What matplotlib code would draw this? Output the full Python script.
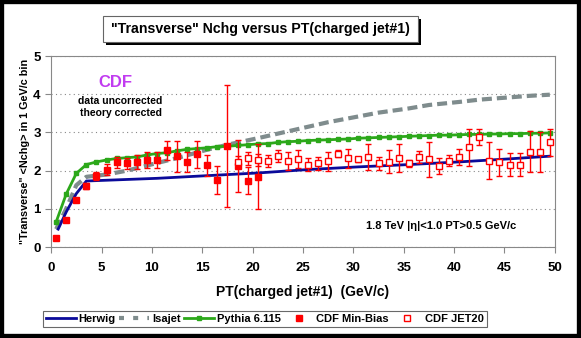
import numpy as np
import matplotlib.pyplot as plt
from matplotlib.patches import Rectangle
from matplotlib.lines import Line2D

plt.rcParams['font.family'] = ['Liberation Sans', 'DejaVu Sans']
plt.rcParams['font.weight'] = 'bold'

# --- CDF Min-Bias (filled squares) ---
mb_x = [0.5, 1.5, 2.5, 3.5, 4.5, 5.5, 6.5, 7.5, 8.5, 9.5, 10.5, 11.5, 12.5, 13.5,
        14.5, 15.5, 16.5, 17.5, 18.5, 19.5, 20.5]
mb_y = [0.25, 0.71, 1.23, 1.60, 1.86, 2.03, 2.22, 2.19, 2.22, 2.28, 2.28, 2.53, 2.38,
        2.22, 2.43, 2.14, 1.75, 2.64, 2.13, 1.74, 1.84]
mb_err = [0.0, 0.0, 0.0, 0.08, 0.10, 0.14, 0.15, 0.15, 0.18, 0.20, 0.20, 0.24, 0.41,
          0.26, 0.36, 0.27, 0.37, 1.60, 0.68, 0.35, 0.85]

# --- CDF JET20 (open squares) ---
j20_x = [18.5, 19.5, 20.5, 21.5, 22.5, 23.5, 24.5, 25.5, 26.5, 27.5, 28.5, 29.5,
         30.5, 31.5, 32.5, 33.5, 34.5, 35.5, 36.5, 37.5, 38.5, 39.5, 40.5, 41.5,
         42.5, 43.5, 44.5, 45.5, 46.5, 47.5, 48.5, 49.5]
j20_y = [2.23, 2.32, 2.28, 2.25, 2.38, 2.26, 2.30, 2.15, 2.19, 2.25, 2.45, 2.32,
         2.30, 2.36, 2.19, 2.23, 2.34, 2.19, 2.36, 2.30, 2.13, 2.26, 2.37, 2.61,
         2.89, 2.26, 2.22, 2.16, 2.16, 2.50, 2.49, 2.74]
j20_err = [0.15, 0.17, 0.17, 0.16, 0.15, 0.24, 0.24, 0.17, 0.18, 0.25, 0.10, 0.24,
           0.07, 0.33, 0.17, 0.30, 0.37, 0.10, 0.16, 0.46, 0.21, 0.15, 0.21, 0.48,
           0.21, 0.49, 0.35, 0.30, 0.31, 0.53, 0.52, 0.35]

# --- Pythia 6.115 ---
py_x = [0.5 + i for i in range(50)]
py_y = [0.66, 1.39, 1.93, 2.16, 2.23, 2.28, 2.32, 2.34, 2.36, 2.41, 2.45, 2.47, 2.52,
        2.56, 2.58, 2.60, 2.63, 2.64, 2.66, 2.68, 2.70, 2.71, 2.74, 2.76, 2.77, 2.79,
        2.80, 2.81, 2.82, 2.83, 2.85, 2.86, 2.87, 2.88, 2.89, 2.90, 2.91, 2.92, 2.93,
        2.93, 2.94, 2.95, 2.95, 2.96, 2.96, 2.97, 2.97, 2.98, 2.98, 2.99]

# --- Herwig ---
hw_x = [0.7, 1.5, 2.5, 3.5, 5.5, 10.5, 15.5, 20.5, 25.5, 30.5, 35.5, 40.5, 45.5, 49.5]
hw_y = [0.47, 0.92, 1.40, 1.73, 1.75, 1.80, 1.87, 1.94, 2.03, 2.10, 2.16, 2.23, 2.31, 2.38]

# --- Isajet ---
isa_x = [0.5, 1.5, 2.5, 3.5, 4.5, 5.5, 7.5, 10.5, 12.5, 15.5, 17.5, 20.5, 22.5, 25.5,
         27.5, 30.5, 32.5, 35.5, 37.5, 40.5, 42.5, 45.5, 47.5, 49.5]
isa_y = [0.47, 1.01, 1.62, 1.84, 1.87, 1.90, 2.00, 2.20, 2.33, 2.55, 2.68, 2.85, 2.97,
         3.15, 3.27, 3.42, 3.52, 3.63, 3.72, 3.80, 3.86, 3.92, 3.96, 3.99]

BLUE = "#0a0a9a"
GREEN = "#2ca81a"
GREY = "#7f8c8d"
RED = "#ff0000"

fig = plt.figure(figsize=(5.81, 3.38), dpi=100)
ax = fig.add_axes([0.088, 0.269, 0.867, 0.565])

ax.plot(isa_x, isa_y, color=GREY, lw=3, dashes=(2.4, 1.2), zorder=2)
ax.plot(hw_x, hw_y, "-", color=BLUE, lw=2, zorder=3)
ax.plot(py_x, py_y, "-", color=GREEN, lw=2, marker="s", ms=3.3, zorder=4)

ax.errorbar(mb_x, mb_y, yerr=mb_err, fmt="s", color=RED, ms=5, ecolor=RED,
            elinewidth=1, capsize=2.5, capthick=1, zorder=5)
ax.errorbar(j20_x, j20_y, yerr=j20_err, fmt="s", mfc="white", mec=RED, mew=1,
            ms=5, ecolor=RED, elinewidth=1, capsize=2.5, capthick=1, zorder=5)

ax.set_xlim(0, 50)
ax.set_ylim(0, 5)
ax.set_xticks(range(0, 51, 5))
ax.set_yticks(range(0, 6))
ax.yaxis.grid(True, ls=(0, (1, 3)), color="#888888", lw=0.8)
ax.tick_params(labelsize=9.5, length=4, width=0.8, color="#888888")
ax.tick_params(axis="x", pad=7)
for lbl in ax.get_xticklabels() + ax.get_yticklabels():
    lbl.set_fontweight("bold")
for sp in ax.spines.values():
    sp.set_color("#888888")
    sp.set_linewidth(0.8)

ax.set_xlabel("PT(charged jet#1)  (GeV/c)", fontsize=10, fontweight="bold", labelpad=8)
ax.set_ylabel('"Transverse" <Nchg> in 1 GeV/c bin', fontsize=7.8, fontweight="bold", labelpad=2)

ax.text(6.4, 4.32, "CDF", color="#c13cf0", fontsize=12, fontweight="bold", ha="center", va="center")
ax.text(6.9, 3.83, "data uncorrected", fontsize=7.5, fontweight="bold", ha="center", va="center")
ax.text(6.9, 3.50, "theory corrected", fontsize=7.5, fontweight="bold", ha="center", va="center")
ax.text(31.3, 0.55, "1.8 TeV |\u03b7|<1.0 PT>0.5 GeV/c", fontsize=8, fontweight="bold",
        ha="left", va="center")

# legend handles (markers only for the data sets)
handles = [
    Line2D([], [], color=BLUE, lw=2),
    Line2D([], [], color=GREY, lw=3, dashes=(1.2, 2.2)),
    Line2D([], [], color=GREEN, lw=2, marker="s", ms=3.3),
    Line2D([], [], ls="none", marker="s", color=RED, ms=5),
    Line2D([], [], ls="none", marker="s", mfc="white", mec=RED, mew=1, ms=5),
]
labels = ["Herwig", "Isajet", "Pythia 6.115", "CDF Min-Bias", "CDF JET20"]
leg = fig.legend(handles, labels, loc="center", ncol=5,
                 bbox_to_anchor=(0.456, 0.056), frameon=True, fancybox=False,
                 edgecolor="#444444", handlelength=2.7, handletextpad=0.25,
                 columnspacing=0.3, borderpad=0.25, prop={"weight": "bold", "size": 8})
leg.get_frame().set_linewidth(0.8)

# title box with shadow
W, H = 581.0, 338.0
fig.patches.append(Rectangle((106 / W, 1 - 45 / H), 315 / W, 26 / H, transform=fig.transFigure,
                             facecolor="black", edgecolor="none", zorder=1))
fig.patches.append(Rectangle((103 / W, 1 - 42 / H), 315 / W, 26 / H, transform=fig.transFigure,
                             facecolor="white", edgecolor="#666666", lw=0.8, zorder=2))
fig.text(260.5 / W, 1 - 29 / H, '"Transverse" Nchg versus PT(charged jet#1)', fontsize=10.2,
         fontweight="bold", ha="center", va="center", zorder=3)

# outer frame
fig.patches.append(Rectangle((0, 0), 1, 1, transform=fig.transFigure, fill=False,
                             edgecolor="black", lw=6, zorder=10))

fig.savefig("out.png", dpi=100)
